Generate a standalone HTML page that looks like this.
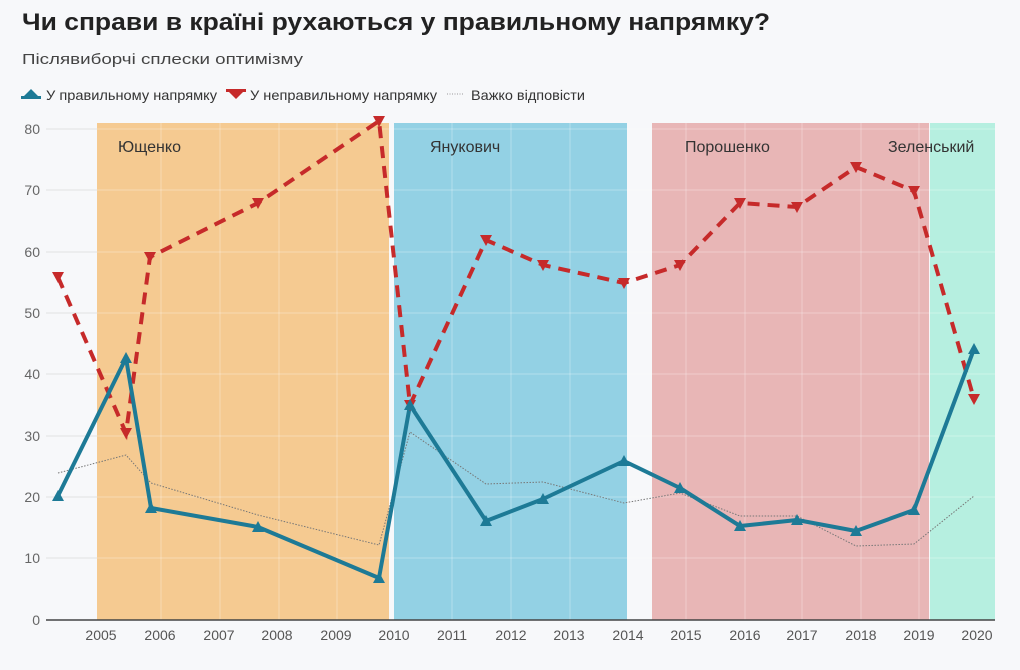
<!DOCTYPE html>
<html><head><meta charset="utf-8"><style>
body{margin:0;background:#f7f8fa;font-family:"Liberation Sans",sans-serif;}
svg text{font-family:"Liberation Sans",sans-serif;}
</style></head><body>
<svg width="1020" height="665" viewBox="0 0 1020 665" xmlns="http://www.w3.org/2000/svg">
<rect width="1020" height="665" fill="#f7f8fa"/>
<text x="22" y="30" font-size="24" font-weight="bold" fill="#222" textLength="748" lengthAdjust="spacingAndGlyphs">Чи справи в країні рухаються у правильному напрямку?</text>
<text x="22" y="64" font-size="15" fill="#444" textLength="281" lengthAdjust="spacingAndGlyphs">Післявиборчі сплески оптимізму</text>
<g font-size="14" fill="#333">
<path d="M24 96 l7 -7 l7 7 z M21 96 h20 v3 h-20z" fill="#1d7a96"/>
<text x="46" y="100" textLength="171" lengthAdjust="spacingAndGlyphs">У правильному напрямку</text>
<path d="M229 92 l7 7 l7 -7 z M226 89 h20 v3 h-20z" fill="#c62a2a"/>
<text x="250" y="100" textLength="187" lengthAdjust="spacingAndGlyphs">У неправильному напрямку</text>
<line x1="447" y1="94" x2="463" y2="94" stroke="#999" stroke-dasharray="1 1.5"/>
<text x="471" y="100" textLength="114" lengthAdjust="spacingAndGlyphs">Важко відповісти</text>
</g>
<rect x="97" y="123" width="292" height="497" fill="#f5ca91"/>
<rect x="394" y="123" width="233" height="497" fill="#93d1e4"/>
<rect x="652" y="123" width="277" height="497" fill="#e8b6b6"/>
<rect x="930" y="123" width="65" height="497" fill="#b6efe0"/>
<g stroke="#ffffff" stroke-opacity="0.3" stroke-width="1">
<line x1="46" y1="129" x2="995" y2="129"/><line x1="46" y1="190" x2="995" y2="190"/>
<line x1="46" y1="252" x2="995" y2="252"/><line x1="46" y1="313" x2="995" y2="313"/>
<line x1="46" y1="374" x2="995" y2="374"/><line x1="46" y1="436" x2="995" y2="436"/>
<line x1="46" y1="497" x2="995" y2="497"/><line x1="46" y1="558" x2="995" y2="558"/>
<line x1="161" y1="123" x2="161" y2="620"/><line x1="220" y1="123" x2="220" y2="620"/>
<line x1="279" y1="123" x2="279" y2="620"/><line x1="337" y1="123" x2="337" y2="620"/>
<line x1="452" y1="123" x2="452" y2="620"/><line x1="511" y1="123" x2="511" y2="620"/>
<line x1="570" y1="123" x2="570" y2="620"/><line x1="686" y1="123" x2="686" y2="620"/>
<line x1="745" y1="123" x2="745" y2="620"/><line x1="802" y1="123" x2="802" y2="620"/>
<line x1="861" y1="123" x2="861" y2="620"/><line x1="919" y1="123" x2="919" y2="620"/>
</g>
<g stroke="#e2e2e2"><line x1="46" y1="129" x2="97" y2="129"/><line x1="46" y1="190" x2="97" y2="190"/><line x1="46" y1="252" x2="97" y2="252"/><line x1="46" y1="313" x2="97" y2="313"/><line x1="46" y1="374" x2="97" y2="374"/><line x1="46" y1="436" x2="97" y2="436"/><line x1="46" y1="497" x2="97" y2="497"/><line x1="46" y1="558" x2="97" y2="558"/></g>
<line x1="46" y1="620" x2="995" y2="620" stroke="#444" stroke-width="1.5"/>
<g font-size="14" fill="#666" text-anchor="end">
<text x="40" y="134">80</text><text x="40" y="195">70</text><text x="40" y="257">60</text><text x="40" y="318">50</text>
<text x="40" y="379">40</text><text x="40" y="441">30</text><text x="40" y="502">20</text><text x="40" y="563">10</text><text x="40" y="625">0</text>
</g>
<g font-size="14" fill="#555" text-anchor="middle">
<text x="101" y="640">2005</text><text x="160" y="640">2006</text><text x="219" y="640">2007</text><text x="277" y="640">2008</text>
<text x="336" y="640">2009</text><text x="394" y="640">2010</text><text x="452" y="640">2011</text><text x="511" y="640">2012</text>
<text x="569" y="640">2013</text><text x="628" y="640">2014</text><text x="686" y="640">2015</text><text x="745" y="640">2016</text>
<text x="802" y="640">2017</text><text x="861" y="640">2018</text><text x="919" y="640">2019</text><text x="977" y="640">2020</text>
</g>
<g font-size="16" fill="#333">
<text x="118" y="152">Ющенко</text><text x="430" y="152">Янукович</text><text x="685" y="152">Порошенко</text><text x="888" y="152">Зеленський</text>
</g>
<polyline fill="none" stroke="#777" stroke-width="1" stroke-dasharray="1.5 1.5" points="58,473 126,455 151,483 258,515 379,545 410,432 486,484 543,482 624,503 680,493 740,516 797,516 856,546 914,544 974,496"/>
<polyline fill="none" stroke="#c62a2a" stroke-width="4" stroke-dasharray="12 8" points="58,277 126,433 150,257 258,203 379,121 410,405 486,240 543,265 624,283 680,265 740,203 797,207 856,167 914,191 974,399"/>
<polyline fill="none" stroke="#1d7a96" stroke-width="4" stroke-linejoin="round" points="58,496 126,358 151,508 258,527 379,578 410,405 486,521 543,499 624,461 680,488 740,526 797,520 856,531 914,510 974,349"/>
<g fill="#c62a2a">
<path d="M52 272 h12 l-6 11z"/><path d="M120 428 h12 l-6 11z"/><path d="M144 252 h12 l-6 11z"/><path d="M252 198 h12 l-6 11z"/><path d="M373 116 h12 l-6 11z"/><path d="M404 400 h12 l-6 11z"/><path d="M480 235 h12 l-6 11z"/><path d="M537 260 h12 l-6 11z"/><path d="M618 278 h12 l-6 11z"/><path d="M674 260 h12 l-6 11z"/><path d="M734 198 h12 l-6 11z"/><path d="M791 202 h12 l-6 11z"/><path d="M850 162 h12 l-6 11z"/><path d="M908 186 h12 l-6 11z"/><path d="M968 394 h12 l-6 11z"/>
</g>
<g fill="#1d7a96">
<path d="M52 501 h12 l-6 -11z"/><path d="M120 363 h12 l-6 -11z"/><path d="M145 513 h12 l-6 -11z"/><path d="M252 532 h12 l-6 -11z"/><path d="M373 583 h12 l-6 -11z"/><path d="M404 410 h12 l-6 -11z"/><path d="M480 526 h12 l-6 -11z"/><path d="M537 504 h12 l-6 -11z"/><path d="M618 466 h12 l-6 -11z"/><path d="M674 493 h12 l-6 -11z"/><path d="M734 531 h12 l-6 -11z"/><path d="M791 525 h12 l-6 -11z"/><path d="M850 536 h12 l-6 -11z"/><path d="M908 515 h12 l-6 -11z"/><path d="M968 354 h12 l-6 -11z"/>
</g>
</svg>
</body></html>
